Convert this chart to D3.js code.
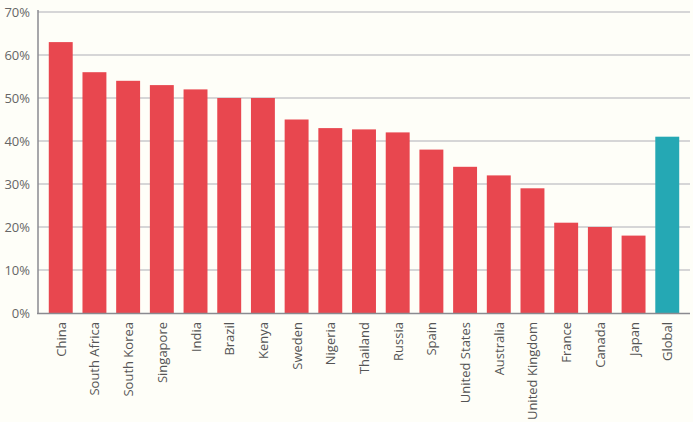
<!DOCTYPE html>
<html><head><meta charset="utf-8">
<script src="https://cdn.jsdelivr.net/npm/d3@7"></script>
<style>body{margin:0;background:#fefef8}</style></head>
<body><svg id="c" width="693" height="422"></svg>
<script>
const categories=["China","South Africa","South Korea","Singapore","India","Brazil","Kenya","Sweden","Nigeria","Thailand","Russia","Spain","United States","Australia","United Kingdom","France","Canada","Japan","Global"];
const values=[63,56,54,53,52,50,50,45,43,42.7,42,38,34,32,29,21,20,18,41];
const yTicks=[0,10,20,30,40,50,60,70];
const svg=d3.select("#c");
const x=d3.scaleBand().domain(categories).range([38,690]).paddingInner(0.29).paddingOuter(0.32);
const y=d3.scaleLinear().domain([0,70]).range([313,12]);
const font="'Open Sans', sans-serif";
svg.append("g").selectAll("line").data(yTicks.filter(d=>d>0)).join("line")
 .attr("x1",38).attr("x2",690).attr("y1",d=>y(d)).attr("y2",d=>y(d))
 .attr("stroke","#c8c8cc").attr("stroke-width",1.3);
svg.append("g").selectAll("rect").data(values).join("rect")
 .attr("x",(d,i)=>x(categories[i])).attr("width",x.bandwidth())
 .attr("y",d=>y(d)).attr("height",d=>y(0)-y(d))
 .attr("fill",(d,i)=>categories[i]==="Global"?"#25a8b4":"#e8474f");
svg.append("line").attr("x1",38).attr("x2",38).attr("y1",10).attr("y2",314).attr("stroke","#8a8a90").attr("stroke-width",1.5);
svg.append("line").attr("x1",37).attr("x2",690).attr("y1",313.5).attr("y2",313.5).attr("stroke","#8a8a90").attr("stroke-width",1.5);
svg.append("g").selectAll("text").data(yTicks).join("text")
 .attr("x",30).attr("y",d=>y(d)+5).attr("text-anchor","end")
 .attr("font-family",font).attr("font-size",13).attr("fill","#666").text(d=>d+"%");
svg.append("g").selectAll("text").data(categories).join("text")
 .attr("transform",d=>`translate(${x(d)+x.bandwidth()/2+5},322) rotate(-90)`)
 .attr("text-anchor","end").attr("font-family",font).attr("font-size",13).attr("fill","#555").text(d=>d);
</script></body></html>
